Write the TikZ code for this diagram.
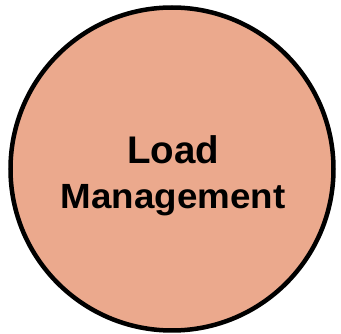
\documentclass[tikz,border=0pt]{standalone}
\usepackage{fontspec}
\setmainfont{Liberation Sans}
\definecolor{salmon}{RGB}{235,169,141}
\begin{document}
\begin{tikzpicture}[x=1pt,y=-1pt,
  bubble/.style={circle,draw=black,line width=4.5pt,fill=salmon,minimum size=323pt,inner sep=0pt},
  lbl/.style={font=\bfseries,text=black,inner sep=0pt,anchor=base}]
\useasboundingbox (0,0) rectangle (341,334);
\node[bubble] (c) at (172,169) {};
\node[lbl,font=\bfseries\fontsize{38.5}{40}\selectfont] (t1) at (173,164) {Load};
\node[lbl,font=\bfseries\fontsize{35}{36}\selectfont] (t2) at (173,209) {\scalebox{1.05}[1]{Management}};
\end{tikzpicture}
\end{document}
